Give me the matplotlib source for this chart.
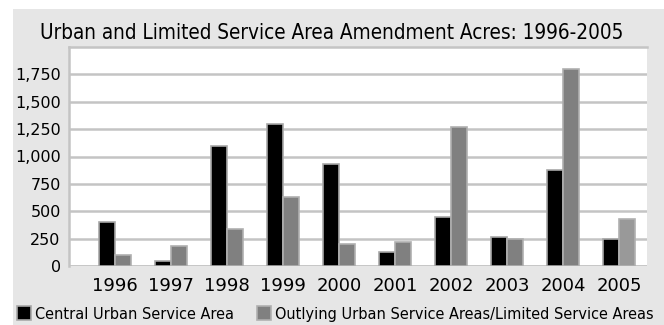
import matplotlib.pyplot as plt
from matplotlib.patches import Rectangle
import numpy as np


years = ["1996", "1997", "1998", "1999", "2000", "2001", "2002", "2003", "2004", "2005"]
central = [400, 50, 1100, 1300, 930, 130, 450, 265, 880, 245]
outlying = [100, 185, 340, 630, 200, 220, 1270, 250, 1800, 430]
y_ticks = [0, 250, 500, 750, 1000, 1250, 1500, 1750]

TITLE = "Urban and Limited Service Area Amendment Acres: 1996-2005"

fig = plt.figure(figsize=(6.64, 3.25), dpi=100)
fig.patch.set_facecolor("white")
fig.patches.append(Rectangle((13 / 664, 0), 1, 1 - 9 / 325, transform=fig.transFigure,
                             facecolor="#e6e6e6", edgecolor="none", zorder=-10))

ax = fig.add_axes([69 / 664, 59 / 325, 578 / 664, 219 / 325])
ax.set_facecolor("white")

x = np.arange(len(years))
w = 0.29
ax.bar(x - w / 2, central, w, color="black", edgecolor="#a8a8a8", linewidth=1.2,
       zorder=3, label="Central Urban Service Area")
out_colors = ["#808080"] * (len(years) - 1) + ["#999999"]
ax.bar(x + w / 2, outlying, w, color=out_colors, edgecolor="#b0b0b0", linewidth=1.2,
       zorder=3, label="Outlying Urban Service Areas/Limited Service Areas")

ax.set_xlim(-0.82, 9.5)
ax.set_ylim(0, 2000)
ax.set_yticks(y_ticks)
ax.set_yticklabels([f"{v:,}" for v in y_ticks], fontsize=11.5)
ax.set_xticks(x)
ax.set_xticklabels(years, fontsize=13)
ax.tick_params(length=0, pad=6)
ax.tick_params(axis="x", pad=8)
ax.grid(axis="y", color="#c4c4c4", linewidth=1.8, zorder=0)

for side in ["right", "bottom"]:
    ax.spines[side].set_visible(False)
for side in ["left", "top"]:
    ax.spines[side].set_color("#c4c4c4")
    ax.spines[side].set_linewidth(1.8)
ax.axhline(0, color="#c4c4c4", linewidth=1.8, zorder=2)

fig.text(0.5, 1 - 33 / 325, TITLE, ha="center", va="center", fontsize=14.9,
         family="DejaVu Sans", stretch="condensed")

handles, labels = ax.get_legend_handles_labels()
fig.legend(handles, labels, loc="center", bbox_to_anchor=(0.505, 1 - 314 / 325),
           ncol=2, frameon=False,
           prop={"family": "DejaVu Sans", "stretch": "condensed", "size": 11.6},
           handlelength=0.9, handleheight=0.9, handletextpad=0.25, columnspacing=1.4,
           borderaxespad=0)

fig.savefig("out.png", dpi=100)
